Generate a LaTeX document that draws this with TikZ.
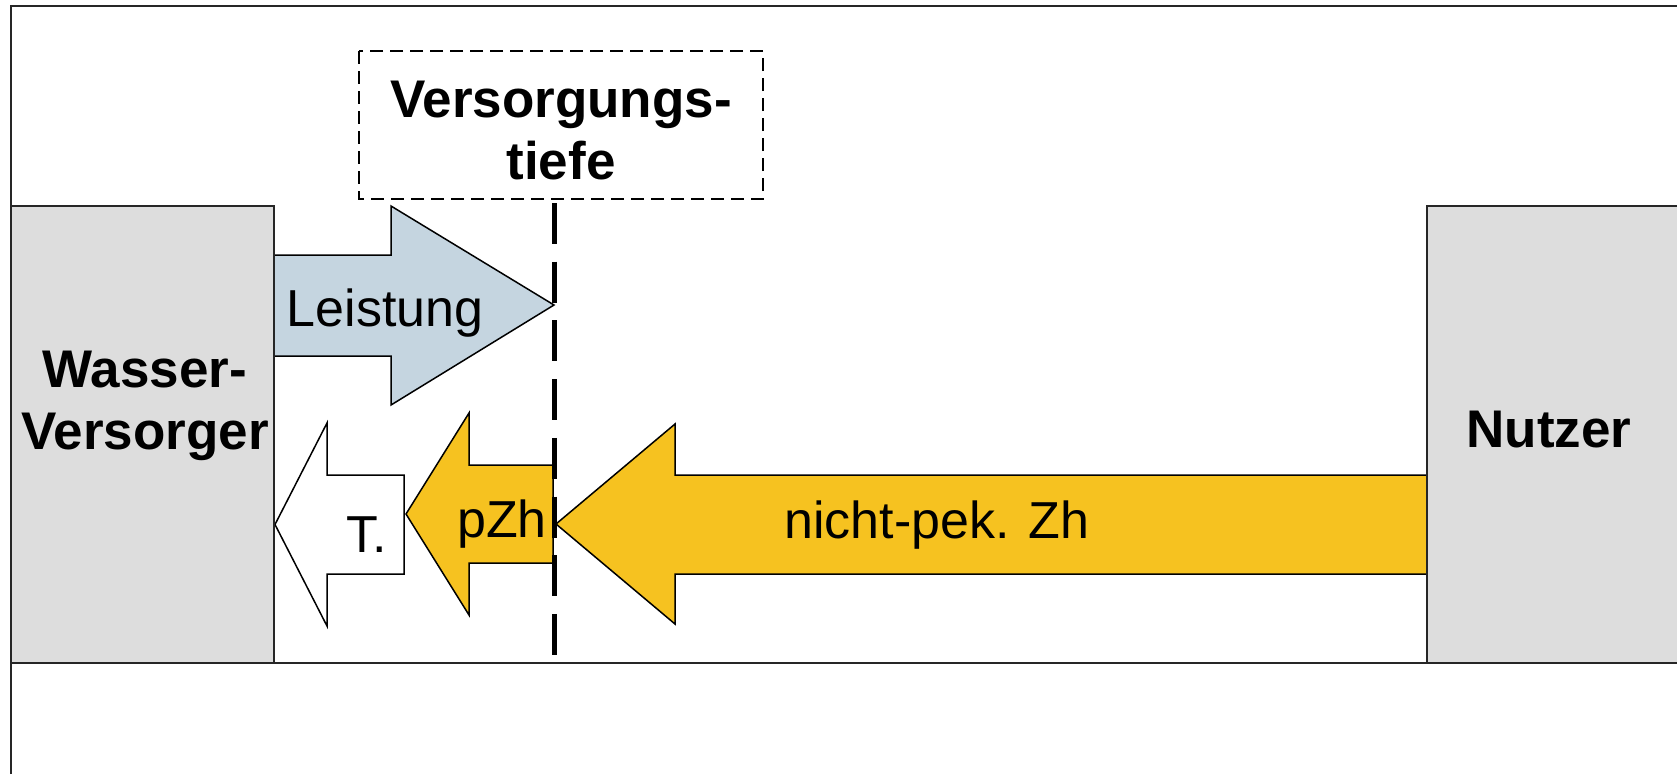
\documentclass[tikz,border=0pt]{standalone}
\usepackage{fontspec}
\setmainfont{Liberation Sans}
\definecolor{boxgray}{HTML}{DDDDDD}
\definecolor{flowblue}{HTML}{C5D5E0}
\definecolor{flowgold}{HTML}{F6C220}
\begin{document}
\begin{tikzpicture}[x=1pt,y=-1pt,
  frameline/.style={draw=black!85, line width=2pt},
  actor/.style={draw=black!85, line width=2pt, fill=boxgray},
  flow/.style={draw=black, line width=1.5pt, line join=miter},
  lbl/.style={font=\fontsize{52}{61.5}\selectfont, anchor=base, align=center, inner sep=0pt},
  blbl/.style={lbl, font=\fontsize{53}{61.5}\selectfont\bfseries},
]
\useasboundingbox (0,0) rectangle (1677,774);
\fill[white] (0,0) rectangle (1677,774);
% frame
\draw[frameline] (11,774) -- (11,6) -- (1677,6);
\draw[frameline] (11,663) -- (1677,663);
% arrows
\draw[flow, fill=flowblue] (274,255) -- (391,255) -- (391,206) -- (554,305) -- (391,405) -- (391,356) -- (274,356) -- cycle;
\draw[flow, fill=white] (404,475) -- (327,475) -- (327,423) -- (275,524.5) -- (327,626) -- (327,574) -- (404,574) -- cycle;
\draw[flow, fill=flowgold] (553,465) -- (469,465) -- (469,413) -- (406,514) -- (469,615) -- (469,563) -- (553,563) -- cycle;
\draw[flow, fill=flowgold] (1427,475) -- (675,475) -- (675,424) -- (556,524) -- (675,624) -- (675,574) -- (1427,574) -- cycle;
% actor boxes
\path[actor] (11,206) rectangle (274,663);
\path[actor] (1427,206) rectangle (1690,663);
% dashed box and boundary line
\draw[line width=1.5pt, dash pattern=on 13pt off 7pt] (359,51) rectangle (763,199);
\draw[line width=5pt, dash pattern=on 41pt off 17.7pt] (554,203) -- (554,656);
% labels (base anchor = baseline of last line)
\node[blbl] (vt) at (561,179) {Versorgungs-\\tiefe};
\node[blbl] (wv) at (145,449) {Wasser-\\Versorger};
\node[blbl] (nu) at (1549,447) {Nutzer};
\node[lbl] (le) at (385,326) {Leistung};
\node[lbl] (tt) at (367,552) {T.};
\node[lbl] (pz) at (502,537) {pZh};
\node[lbl] (np) at (937,538) {nicht-pek. Zh};
\end{tikzpicture}
\end{document}
